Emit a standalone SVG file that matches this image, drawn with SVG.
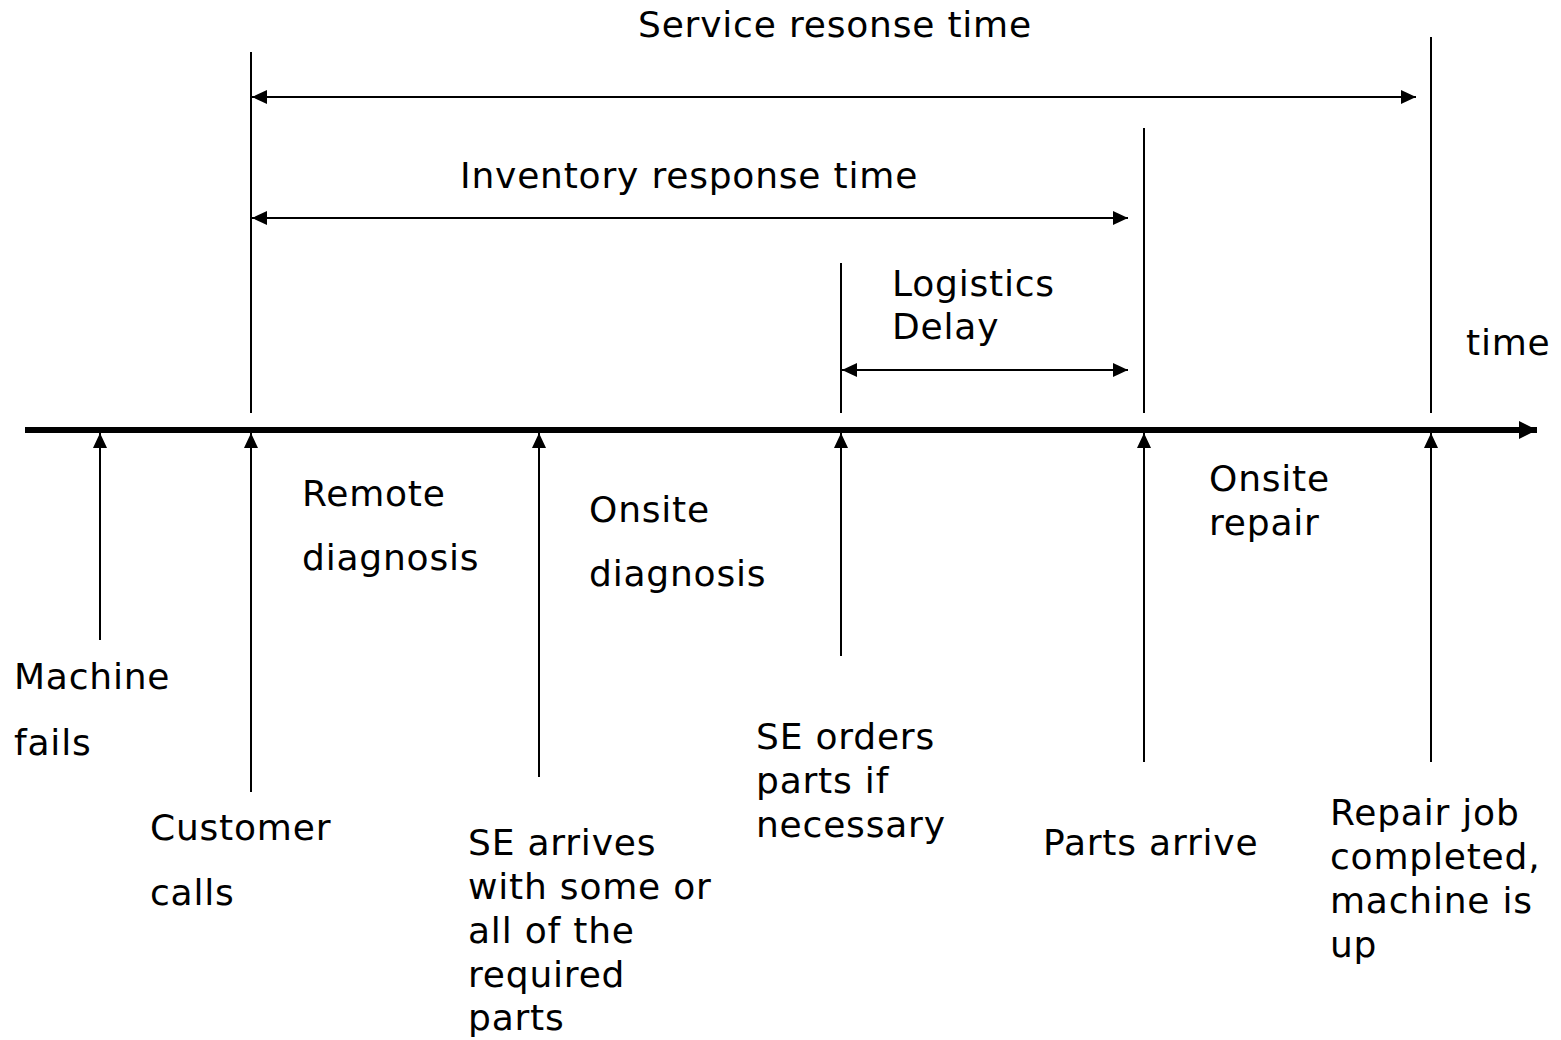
<svg xmlns="http://www.w3.org/2000/svg" width="1561" height="1040" viewBox="0 0 1561 1040">
<defs>
<marker id="ah" viewBox="0 0 15 14" refX="15" refY="7" markerWidth="15" markerHeight="14" markerUnits="userSpaceOnUse" orient="auto-start-reverse">
<path d="M0,0 L15,7 L0,14 Z" fill="#000"/>
</marker>
<marker id="ahb" viewBox="0 0 18 18" refX="18" refY="9" markerWidth="18" markerHeight="18" markerUnits="userSpaceOnUse" orient="auto">
<path d="M0,0 L18,9 L0,18 Z" fill="#000"/>
</marker>
</defs>
<style>
text{font-family:"DejaVu Sans","Verdana",sans-serif;font-size:36px;letter-spacing:0.8px;fill:#000}
.l{stroke:#000;stroke-width:2;fill:none}
.a{stroke:#000;stroke-width:2;fill:none;marker-end:url(#ah)}
.d{stroke:#000;stroke-width:2;fill:none;marker-start:url(#ah);marker-end:url(#ah)}
</style>
<rect width="1561" height="1040" fill="#fff"/>
<g id="connectors">
<line x1="25" y1="430" x2="1537" y2="430" stroke="#000" stroke-width="6" marker-end="url(#ahb)"/>
<line class="l" x1="251" y1="52" x2="251" y2="413"/>
<line class="l" x1="1431" y1="37" x2="1431" y2="413"/>
<line class="l" x1="1144" y1="128" x2="1144" y2="413"/>
<line class="l" x1="841" y1="263" x2="841" y2="413"/>
<line class="d" x1="252" y1="97" x2="1416" y2="97"/>
<line class="d" x1="252" y1="218" x2="1128" y2="218"/>
<line class="d" x1="842" y1="370" x2="1128" y2="370"/>
<line class="a" x1="100" y1="640" x2="100" y2="433"/>
<line class="a" x1="251" y1="792" x2="251" y2="433"/>
<line class="a" x1="539" y1="777" x2="539" y2="433"/>
<line class="a" x1="841" y1="656" x2="841" y2="433"/>
<line class="a" x1="1144" y1="762" x2="1144" y2="433"/>
<line class="a" x1="1431" y1="762" x2="1431" y2="433"/>
</g>
<g id="service-response"><text x="638" y="37">Service resonse time</text></g>
<g id="inventory-response"><text x="460" y="188">Inventory response time</text></g>
<g id="logistics-delay"><text x="892" y="296">Logistics</text><text x="892" y="339">Delay</text></g>
<g id="time-label"><text x="1466" y="355">time</text></g>
<g id="remote-diagnosis"><text x="302" y="506">Remote</text><text x="302" y="570">diagnosis</text></g>
<g id="onsite-diagnosis"><text x="589" y="522">Onsite</text><text x="589" y="586">diagnosis</text></g>
<g id="onsite-repair"><text x="1209" y="491">Onsite</text><text x="1209" y="535">repair</text></g>
<g id="machine-fails"><text x="14" y="689">Machine</text><text x="14" y="755">fails</text></g>
<g id="customer-calls"><text x="150" y="840">Customer</text><text x="150" y="905">calls</text></g>
<g id="se-arrives"><text x="468" y="855">SE arrives</text><text x="468" y="899">with some or</text><text x="468" y="943">all of the</text><text x="468" y="987">required</text><text x="468" y="1030">parts</text></g>
<g id="se-orders"><text x="756" y="749">SE orders</text><text x="756" y="793">parts if</text><text x="756" y="837">necessary</text></g>
<g id="parts-arrive"><text x="1043" y="855">Parts arrive</text></g>
<g id="repair-completed"><text x="1330" y="825">Repair job</text><text x="1330" y="869">completed,</text><text x="1330" y="913">machine is</text><text x="1330" y="957">up</text></g>
</svg>
